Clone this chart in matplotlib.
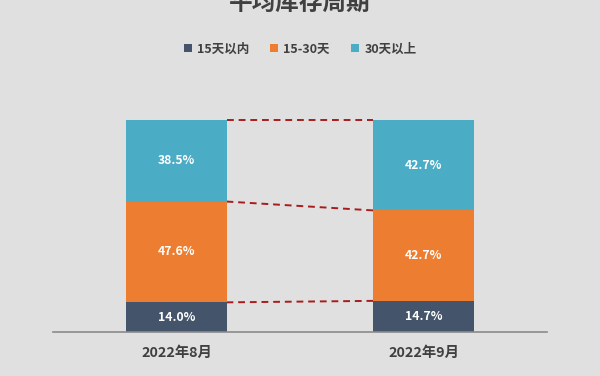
import matplotlib.pyplot as plt
import numpy as np

plt.rcParams['font.family'] = ['Noto Sans CJK SC', 'DejaVu Sans']

months = ['2022年8月', '2022年9月']
series = ['15天以内', '15-30天', '30天以上']
within15 = [14.0, 14.7]
d15_30 = [47.6, 42.7]
over30 = [38.5, 42.7]
colors = ['#44546a', '#ed7d31', '#4bacc6']

bg = '#e0e0e0'
fig = plt.figure(figsize=(6, 3.76), dpi=100, facecolor=bg)
ax = fig.add_axes([53 / 600, 44 / 376, 494 / 600, 212 / 376], facecolor=bg)

x = np.arange(len(months))
w = 0.405
bottom = np.zeros(len(months))
tops = []
for vals, name, c in zip([within15, d15_30, over30], series, colors):
    vals = np.array(vals)
    bars = ax.bar(x, vals, w, bottom=bottom, color=c, label=name, zorder=2)
    for xi, b, v in zip(x, bottom, vals):
        ax.text(xi, b + v / 2, f'{v:.1f}%', ha='center', va='center',
                color='white', fontsize=8.8, fontweight='bold', zorder=3)
    bottom = bottom + vals
    tops.append(bottom.copy())

# dashed connectors between stack boundaries
for t in tops:
    ax.plot([x[0] + w / 2, x[1] - w / 2], [t[0], t[1]], ls=(0, (3.5, 2.5)),
            color='#a81c1c', lw=1.4, zorder=1, clip_on=False)

ax.set_xlim(-0.5, 1.5)
ax.set_ylim(0, max(tops[-1]))
ax.set_xticks(x)
ax.set_xticklabels(months, fontsize=10.3, fontweight='bold', color='#404040')
ax.tick_params(axis='x', length=0, pad=10)
ax.set_yticks([])
for s in ['top', 'left', 'right']:
    ax.spines[s].set_visible(False)
ax.spines['bottom'].set_color('#8a8a8a')
ax.spines['bottom'].set_linewidth(1.2)

fig.text(0.5, 1 - 3 / 376, '平均库存周期', ha='center', va='center',
         fontsize=17, fontweight='bold', color='#404040')

fig.legend(loc='center', bbox_to_anchor=(0.5, 1 - 49 / 376), ncol=3,
           frameon=False, handlelength=0.65, handleheight=0.65,
           handletextpad=0.4, columnspacing=1.7,
           labelcolor='#404040', prop={'weight': 'bold', 'size': 9})

fig.savefig('out.png', dpi=100, facecolor=bg)
